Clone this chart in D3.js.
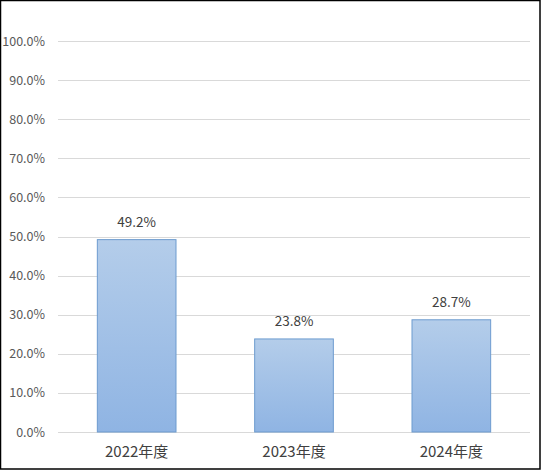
<!DOCTYPE html>
<html><head><meta charset="utf-8">
<script src="https://cdn.jsdelivr.net/npm/d3@7"></script>
<style>
html,body{margin:0;padding:0;background:#fff;}
svg{display:block;}
text{font-family:"Noto Sans CJK JP","Noto Sans",sans-serif;fill:#595959;}
</style></head>
<body>
<script>
const categories = ["2022年度","2023年度","2024年度"];
const values = [49.2, 23.8, 28.7];
const tickValues = [0,10,20,30,40,50,60,70,80,90,100];

(function(){
const W = 541, H = 470;
const svg = d3.select("body").append("svg").attr("width", W).attr("height", H);

const defs = svg.append("defs");
const grad = defs.append("linearGradient").attr("id","barGrad").attr("x1",0).attr("y1",0).attr("x2",0).attr("y2",1);
grad.append("stop").attr("offset","0%").attr("stop-color","#b4cdea");
grad.append("stop").attr("offset","100%").attr("stop-color","#8fb4e3");

svg.append("rect").attr("x",0.5).attr("y",0.5).attr("width",W-1.5).attr("height",H-1.5)
  .attr("fill","#fff").attr("stroke","#000").attr("stroke-width",1.5);

const pl = 58, pr = 530, pt = 41, pb = 432;
const x = d3.scaleBand().domain(categories).range([pl, pr]).paddingInner(0.5).paddingOuter(0.25);
const y = d3.scaleLinear().domain([0,100]).range([pb, pt]);

svg.append("g").selectAll("line").data(tickValues).join("line")
  .attr("x1", pl).attr("x2", pr)
  .attr("y1", d => Math.round(y(d))+0.5).attr("y2", d => Math.round(y(d))+0.5)
  .attr("stroke", "#d9d9d9").attr("stroke-width", 1);

const yAxis = d3.axisLeft(y).tickValues(tickValues).tickSize(0).tickPadding(0)
  .tickFormat(d => d.toFixed(1) + "%");
const gy = svg.append("g").attr("transform", `translate(45,0)`).call(yAxis);
gy.select(".domain").remove();
gy.selectAll("text").style("font-size","12.5px").style("fill","#595959")
  .style("font-family",'"Noto Sans CJK JP","Noto Sans",sans-serif');

svg.append("g").selectAll("rect").data(values).join("rect")
  .attr("x", (d,i) => x(categories[i]))
  .attr("y", d => y(d))
  .attr("width", x.bandwidth())
  .attr("height", d => pb - y(d))
  .attr("fill", "url(#barGrad)")
  .attr("stroke", "#6d9bcf").attr("stroke-width", 1);

svg.append("g").selectAll("text").data(values).join("text")
  .attr("x", (d,i) => x(categories[i]) + x.bandwidth()/2)
  .attr("y", d => y(d) - 13)
  .attr("text-anchor","middle")
  .style("font-size","13.5px").style("fill","#404040")
  .text(d => d.toFixed(1) + "%");

const xAxis = d3.axisBottom(x).tickSize(0).tickPadding(14);
const gx = svg.append("g").attr("transform", `translate(0,${pb})`).call(xAxis);
gx.select(".domain").remove();
gx.selectAll("text").style("font-size","15px").style("fill","#404040")
  .style("font-family",'"Noto Sans CJK JP","Noto Sans",sans-serif');
})();
</script>
</body></html>
